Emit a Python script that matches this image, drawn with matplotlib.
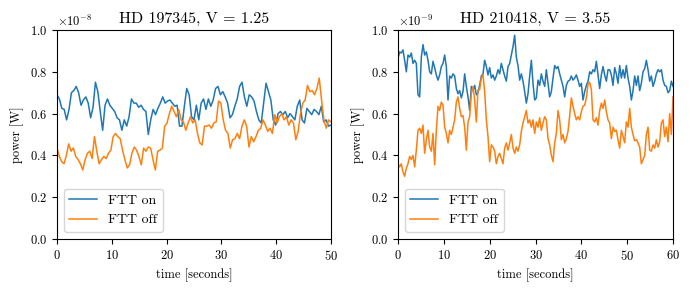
import numpy as np
import matplotlib
matplotlib.use("Agg")
import matplotlib.pyplot as plt

plt.rcParams['font.family'] = 'serif'
plt.rcParams['font.serif'] = ['cmr10', 'DejaVu Serif']
plt.rcParams['mathtext.fontset'] = 'cm'
plt.rcParams['axes.formatter.use_mathtext'] = True
plt.rcParams['axes.unicode_minus'] = False

# ---- Data (values in units of the offset scale) ----
title_left = "HD 197345, V = 1.25"
title_right = "HD 210418, V = 3.55"
scale_left = 1e-8
scale_right = 1e-9
duration_left = 50
duration_right = 60

left_on = [0.69, 0.67, 0.625, 0.62, 0.57, 0.62, 0.70, 0.71, 0.73, 0.70, 0.64, 0.665, 0.68, 0.65,
           0.58, 0.63, 0.75, 0.705, 0.61, 0.52, 0.64, 0.67, 0.64, 0.625, 0.61, 0.58, 0.57, 0.52,
           0.57, 0.54, 0.585, 0.67, 0.65, 0.65, 0.63, 0.64, 0.62, 0.61, 0.50, 0.57, 0.62, 0.595,
           0.625, 0.65, 0.68, 0.65, 0.66, 0.665, 0.65, 0.635, 0.64, 0.54, 0.54, 0.635, 0.72, 0.69,
           0.585, 0.57, 0.64, 0.57, 0.65, 0.67, 0.62, 0.67, 0.635, 0.665, 0.72, 0.73, 0.69, 0.705,
           0.68, 0.65, 0.58, 0.595, 0.635, 0.67, 0.73, 0.75, 0.68, 0.635, 0.69, 0.68, 0.66, 0.61,
           0.57, 0.555, 0.65, 0.745, 0.705, 0.665, 0.57, 0.545, 0.60, 0.61, 0.595, 0.61, 0.58, 0.60,
           0.585, 0.57, 0.635, 0.665, 0.57, 0.555, 0.625, 0.61, 0.595, 0.62, 0.61, 0.595, 0.635,
           0.56, 0.57, 0.54, 0.545]

left_off = [0.435, 0.395, 0.37, 0.36, 0.40, 0.455, 0.42, 0.435, 0.395, 0.38, 0.36, 0.33, 0.38, 0.41,
            0.42, 0.385, 0.49, 0.42, 0.36, 0.38, 0.395, 0.385, 0.41, 0.425, 0.49, 0.505, 0.49, 0.48,
            0.425, 0.38, 0.34, 0.355, 0.41, 0.44, 0.425, 0.395, 0.355, 0.435, 0.42, 0.44, 0.435, 0.38,
            0.33, 0.42, 0.425, 0.435, 0.54, 0.555, 0.60, 0.635, 0.61, 0.585, 0.62, 0.57, 0.56, 0.52,
            0.555, 0.585, 0.555, 0.57, 0.505, 0.46, 0.45, 0.54, 0.54, 0.545, 0.53, 0.555, 0.56, 0.66,
            0.65, 0.57, 0.52, 0.505, 0.435, 0.475, 0.48, 0.505, 0.48, 0.54, 0.57, 0.54, 0.44, 0.49,
            0.465, 0.49, 0.52, 0.53, 0.57, 0.545, 0.515, 0.53, 0.505, 0.595, 0.555, 0.585, 0.60, 0.57,
            0.585, 0.545, 0.57, 0.555, 0.475, 0.515, 0.60, 0.65, 0.665, 0.735, 0.705, 0.71, 0.69, 0.72,
            0.77, 0.665, 0.57, 0.53, 0.57, 0.56]

right_on = [0.865, 0.895, 0.89, 0.905, 0.855, 0.80, 0.88, 0.87, 0.89, 0.84, 0.855, 0.84, 0.69, 0.68,
            0.87, 0.93, 0.88, 0.895, 0.855, 0.80, 0.79, 0.85, 0.82, 0.785, 0.76, 0.785, 0.825, 0.84,
            0.88, 0.825, 0.665, 0.78, 0.77, 0.79, 0.78, 0.72, 0.695, 0.71, 0.675, 0.705, 0.79, 0.73,
            0.68, 0.615, 0.73, 0.71, 0.735, 0.69, 0.70, 0.735, 0.78, 0.79, 0.855, 0.825, 0.785, 0.82,
            0.77, 0.785, 0.76, 0.78, 0.81, 0.79, 0.84, 0.81, 0.78, 0.755, 0.825, 0.84, 0.88, 0.92,
            0.975, 0.87, 0.83, 0.76, 0.79, 0.755, 0.705, 0.65, 0.695, 0.78, 0.855, 0.745, 0.665, 0.675,
            0.76, 0.735, 0.79, 0.755, 0.73, 0.81, 0.745, 0.68, 0.705, 0.77, 0.83, 0.815, 0.825, 0.79,
            0.76, 0.73, 0.68, 0.735, 0.755, 0.76, 0.78, 0.76, 0.77, 0.785, 0.76, 0.73, 0.745, 0.665,
            0.705, 0.735, 0.755, 0.80, 0.79, 0.81, 0.80, 0.85, 0.785, 0.72, 0.785, 0.825, 0.785, 0.755,
            0.81, 0.81, 0.785, 0.735, 0.82, 0.79, 0.745, 0.83, 0.77, 0.81, 0.77, 0.83, 0.77, 0.73,
            0.665, 0.71, 0.78, 0.735, 0.78, 0.71, 0.745, 0.80, 0.815, 0.855, 0.81, 0.755, 0.78, 0.73,
            0.755, 0.79, 0.81, 0.80, 0.81, 0.76, 0.735, 0.73, 0.70, 0.71, 0.755, 0.73]

right_off = [0.36, 0.345, 0.36, 0.32, 0.30, 0.34, 0.36, 0.395, 0.38, 0.40, 0.345, 0.425, 0.52, 0.53,
             0.505, 0.545, 0.41, 0.475, 0.52, 0.44, 0.42, 0.505, 0.355, 0.52, 0.635, 0.615, 0.655, 0.64,
             0.535, 0.505, 0.46, 0.52, 0.50, 0.535, 0.57, 0.655, 0.68, 0.625, 0.585, 0.59, 0.535, 0.425,
             0.56, 0.585, 0.695, 0.73, 0.665, 0.56, 0.715, 0.715, 0.77, 0.785, 0.705, 0.57, 0.49, 0.37,
             0.45, 0.44, 0.42, 0.36, 0.395, 0.41, 0.385, 0.36, 0.435, 0.46, 0.425, 0.46, 0.50, 0.435,
             0.41, 0.44, 0.42, 0.45, 0.515, 0.555, 0.585, 0.615, 0.555, 0.57, 0.535, 0.57, 0.505, 0.56,
             0.535, 0.58, 0.52, 0.555, 0.585, 0.57, 0.48, 0.45, 0.40, 0.37, 0.46, 0.505, 0.615, 0.57,
             0.475, 0.50, 0.46, 0.48, 0.515, 0.59, 0.675, 0.635, 0.60, 0.57, 0.585, 0.57, 0.61, 0.635,
             0.64, 0.675, 0.74, 0.75, 0.715, 0.57, 0.56, 0.58, 0.545, 0.615, 0.65, 0.625, 0.665, 0.61,
             0.57, 0.555, 0.48, 0.535, 0.515, 0.52, 0.475, 0.435, 0.52, 0.49, 0.46, 0.56, 0.535, 0.625,
             0.535, 0.50, 0.47, 0.475, 0.46, 0.44, 0.36, 0.38, 0.40, 0.50, 0.535, 0.425, 0.42, 0.45,
             0.435, 0.475, 0.44, 0.465, 0.555, 0.57, 0.49, 0.535, 0.465, 0.60, 0.50, 0.68]

labels = ["FTT on", "FTT off"]
colors = ["#1f77b4", "#ff7f0e"]

fig = plt.figure(figsize=(6.9, 2.9), dpi=100)
ax1 = fig.add_axes([0.0826, 0.1759, 0.397, 0.7207])
ax2 = fig.add_axes([0.5768, 0.1759, 0.3986, 0.7207])

panels = [
    (ax1, left_on, left_off, duration_left, scale_left, title_left, [0, 10, 20, 30, 40, 50]),
    (ax2, right_on, right_off, duration_right, scale_right, title_right, [0, 10, 20, 30, 40, 50, 60]),
]

for ax, on, off, dur, sc, title, xt in panels:
    t_on = np.linspace(0, dur, len(on))
    t_off = np.linspace(0, dur, len(off))
    ax.plot(t_on, np.array(on) * sc, color=colors[0], lw=1.1, label=labels[0])
    ax.plot(t_off, np.array(off) * sc, color=colors[1], lw=1.1, label=labels[1])
    ax.set_xlim(0, dur)
    ax.set_ylim(0, 1.0 * sc)
    ax.set_xticks(xt)
    ax.set_yticks(np.array([0, 0.2, 0.4, 0.6, 0.8, 1.0]) * sc)
    ax.tick_params(labelsize=9)
    ax.yaxis.get_offset_text().set_fontsize(9)
    ax.set_xlabel("time [seconds]", fontsize=9)
    ax.set_ylabel("power [W]", fontsize=9)
    ax.set_title(title, fontsize=11.5, pad=5)
    ax.legend(loc="lower left", fontsize=10, handlelength=2.0)

fig.savefig("out.png", dpi=100)
